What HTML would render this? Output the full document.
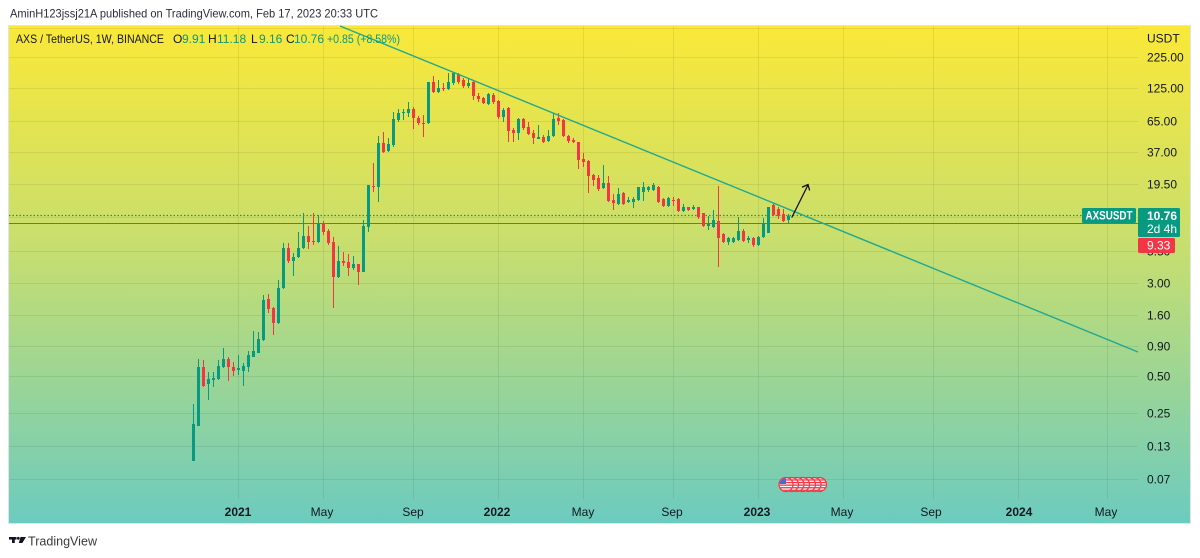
<!DOCTYPE html>
<html><head><meta charset="utf-8"><style>
html,body{margin:0;padding:0;background:#fff;width:1200px;height:558px;overflow:hidden}
svg{display:block}
text{font-family:"Liberation Sans",Arial,sans-serif}
</style></head><body>
<svg width="1200" height="558" viewBox="0 0 1200 558" xmlns="http://www.w3.org/2000/svg">
<defs>
<linearGradient id="bg" x1="0" y1="26" x2="0" y2="524" gradientUnits="userSpaceOnUse">
<stop offset="0" stop-color="#fae838"/>
<stop offset="0.45" stop-color="#c6de70"/>
<stop offset="1" stop-color="#6ccbbf"/>
</linearGradient>
<clipPath id="fc"><circle cx="0" cy="0" r="6.3"/></clipPath>
<g id="flag">
<circle r="7.6" fill="#f23645"/>
<circle r="6.3" fill="#fff"/>
<g clip-path="url(#fc)" fill="#f23645">
<rect x="-8" y="-5.2" width="16" height="1.3"/>
<rect x="-8" y="-2.6" width="16" height="1.3"/>
<rect x="-8" y="0" width="16" height="1.3"/>
<rect x="-8" y="2.6" width="16" height="1.3"/>
<rect x="-8" y="5.2" width="16" height="1.3"/>
</g>
</g>
</defs>

<!-- header -->
<text x="10" y="17.5" font-size="12" fill="#2a2e39" textLength="368" lengthAdjust="spacingAndGlyphs">AminH123jssj21A published on TradingView.com, Feb 17, 2023 20:33 UTC</text>

<!-- frame -->
<rect x="8.5" y="25.5" width="1182" height="498" fill="url(#bg)" stroke="#dfe3ea" stroke-width="1"/>

<!-- grid -->
<g stroke="#000" stroke-opacity="0.07" stroke-width="1">
<line x1="9" y1="28.5" x2="1138" y2="28.5"/>
<line x1="9" y1="57.5" x2="1138" y2="57.5"/>
<line x1="9" y1="88.5" x2="1138" y2="88.5"/>
<line x1="9" y1="121.5" x2="1138" y2="121.5"/>
<line x1="9" y1="152.5" x2="1138" y2="152.5"/>
<line x1="9" y1="184.5" x2="1138" y2="184.5"/>
<line x1="9" y1="217.5" x2="1138" y2="217.5"/>
<line x1="9" y1="251.5" x2="1138" y2="251.5"/>
<line x1="9" y1="283.5" x2="1138" y2="283.5"/>
<line x1="9" y1="315.5" x2="1138" y2="315.5"/>
<line x1="9" y1="346.5" x2="1138" y2="346.5"/>
<line x1="9" y1="376.5" x2="1138" y2="376.5"/>
<line x1="9" y1="413.5" x2="1138" y2="413.5"/>
<line x1="9" y1="446.5" x2="1138" y2="446.5"/>
<line x1="9" y1="479.5" x2="1138" y2="479.5"/>
<line x1="238.5" y1="26" x2="238.5" y2="499"/>
<line x1="323.5" y1="26" x2="323.5" y2="499"/>
<line x1="413.5" y1="26" x2="413.5" y2="499"/>
<line x1="498.5" y1="26" x2="498.5" y2="499"/>
<line x1="583.5" y1="26" x2="583.5" y2="499"/>
<line x1="673.5" y1="26" x2="673.5" y2="499"/>
<line x1="758.5" y1="26" x2="758.5" y2="499"/>
<line x1="843.5" y1="26" x2="843.5" y2="499"/>
<line x1="933.5" y1="26" x2="933.5" y2="499"/>
<line x1="1018.5" y1="26" x2="1018.5" y2="499"/>
<line x1="1107.5" y1="26" x2="1107.5" y2="499"/>
</g>

<!-- price lines -->
<line x1="9" y1="215.5" x2="1082" y2="215.5" stroke="#089981" stroke-width="1.2" stroke-dasharray="1.5,2"/>
<line x1="9" y1="223.5" x2="1138" y2="223.5" stroke="#f23645" stroke-width="1"/>

<!-- candles green -->
<path fill="#089981" d="M193,404h1V461h-1zM192,424h3V461h-3zM198,359h1V426h-1zM197,367h3V426h-3zM208,372h1V400h-1zM207,379h3V384h-3zM213,372h1V387h-1zM212,378h3V380h-3zM218,360h1V380h-1zM217,366h3V379h-3zM223,348h1V368h-1zM222,359h3V367h-3zM238,355h1V375h-1zM237,368h3V370h-3zM243,363h1V386h-1zM242,366h3V371h-3zM248,351h1V372h-1zM247,355h3V367h-3zM253,331h1V357h-1zM252,351h3V357h-3zM258,332h1V353h-1zM257,339h3V353h-3zM263,295h1V341h-1zM262,300h3V340h-3zM278,280h1V324h-1zM277,288h3V323h-3zM283,243h1V289h-1zM282,248h3V288h-3zM293,253h1V276h-1zM292,257h3V261h-3zM298,232h1V258h-1zM297,248h3V257h-3zM303,213h1V249h-1zM302,236h3V248h-3zM318,215h1V243h-1zM317,223h3V242h-3zM338,246h1V278h-1zM337,261h3V277h-3zM353,256h1V270h-1zM352,264h3V268h-3zM363,220h1V272h-1zM362,226h3V272h-3zM368,185h1V232h-1zM367,185h3V227h-3zM378,136h1V202h-1zM377,143h3V187h-3zM388,138h1V152h-1zM387,144h3V151h-3zM393,112h1V147h-1zM392,119h3V145h-3zM398,109h1V122h-1zM397,113h3V120h-3zM403,109h1V120h-1zM402,112h3V113h-3zM408,102h1V117h-1zM407,109h3V113h-3zM428,82h1V124h-1zM427,82h3V123h-3zM438,80h1V93h-1zM437,88h3V92h-3zM448,73h1V90h-1zM447,82h3V89h-3zM453,72h1V85h-1zM452,73h3V83h-3zM468,79h1V88h-1zM467,83h3V86h-3zM488,93h1V105h-1zM487,94h3V104h-3zM503,108h1V122h-1zM502,110h3V117h-3zM518,118h1V140h-1zM517,119h3V133h-3zM538,125h1V139h-1zM537,137h3V139h-3zM548,130h1V142h-1zM547,136h3V141h-3zM553,113h1V137h-1zM552,119h3V136h-3zM603,165h1V189h-1zM602,183h3V188h-3zM618,188h1V205h-1zM617,194h3V204h-3zM628,197h1V203h-1zM627,200h3V202h-3zM633,197h1V208h-1zM632,199h3V202h-3zM638,187h1V201h-1zM637,187h3V200h-3zM643,182h1V201h-1zM642,187h3V192h-3zM648,186h1V192h-1zM647,187h3V190h-3zM653,183h1V191h-1zM652,185h3V190h-3zM668,197h1V207h-1zM667,198h3V206h-3zM683,204h1V212h-1zM682,207h3V211h-3zM693,205h1V210h-1zM692,207h3V209h-3zM708,216h1V230h-1zM707,223h3V226h-3zM713,210h1V228h-1zM712,220h3V227h-3zM728,237h1V245h-1zM727,238h3V242h-3zM733,237h1V243h-1zM732,238h3V242h-3zM738,217h1V241h-1zM737,231h3V240h-3zM748,236h1V243h-1zM747,238h3V240h-3zM758,236h1V246h-1zM757,237h3V245h-3zM763,218h1V238h-1zM762,223h3V237h-3zM768,207h1V233h-1zM767,207h3V233h-3zM788,214h1V223h-1zM787,216h3V220h-3z"/>

<!-- candles red -->
<path fill="#f23645" d="M203,360h1V387h-1zM202,367h3V386h-3zM228,357h1V381h-1zM227,359h3V367h-3zM233,362h1V376h-1zM232,367h3V371h-3zM268,294h1V313h-1zM267,299h3V309h-3zM273,307h1V335h-1zM272,308h3V323h-3zM288,243h1V263h-1zM287,248h3V261h-3zM308,226h1V249h-1zM307,236h3V242h-3zM313,213h1V245h-1zM312,241h3V242h-3zM323,221h1V235h-1zM322,223h3V232h-3zM328,229h1V245h-1zM327,231h3V243h-3zM333,237h1V308h-1zM332,242h3V277h-3zM343,252h1V266h-1zM342,261h3V263h-3zM348,254h1V276h-1zM347,262h3V268h-3zM358,264h1V285h-1zM357,264h3V272h-3zM373,163h1V192h-1zM372,186h3V187h-3zM383,132h1V153h-1zM382,143h3V152h-3zM413,107h1V129h-1zM412,109h3V118h-3zM418,116h1V125h-1zM417,118h3V123h-3zM423,115h1V137h-1zM422,123h3V124h-3zM433,76h1V93h-1zM432,82h3V92h-3zM443,83h1V91h-1zM442,88h3V89h-3zM458,73h1V84h-1zM457,74h3V82h-3zM463,78h1V88h-1zM462,80h3V86h-3zM473,80h1V100h-1zM472,82h3V96h-3zM478,93h1V102h-1zM477,96h3V99h-3zM483,97h1V104h-1zM482,98h3V103h-3zM493,93h1V104h-1zM492,95h3V102h-3zM498,100h1V119h-1zM497,101h3V117h-3zM508,107h1V142h-1zM507,108h3V131h-3zM513,128h1V142h-1zM512,130h3V133h-3zM523,118h1V130h-1zM522,119h3V128h-3zM528,122h1V135h-1zM527,127h3V134h-3zM533,130h1V144h-1zM532,133h3V138h-3zM543,135h1V143h-1zM542,137h3V142h-3zM558,113h1V125h-1zM557,118h3V121h-3zM563,119h1V137h-1zM562,120h3V136h-3zM568,135h1V143h-1zM567,136h3V141h-3zM573,138h1V143h-1zM572,140h3V142h-3zM578,142h1V169h-1zM577,142h3V160h-3zM583,153h1V167h-1zM582,159h3V162h-3zM588,160h1V193h-1zM587,161h3V176h-3zM593,174h1V186h-1zM592,175h3V180h-3zM598,175h1V191h-1zM597,178h3V189h-3zM608,176h1V202h-1zM607,183h3V201h-3zM613,194h1V210h-1zM612,200h3V203h-3zM623,192h1V205h-1zM622,193h3V204h-3zM658,186h1V203h-1zM657,187h3V202h-3zM663,198h1V207h-1zM662,199h3V206h-3zM673,197h1V206h-1zM672,200h3V201h-3zM678,198h1V212h-1zM677,199h3V211h-3zM688,207h1V211h-1zM687,207h3V210h-3zM698,207h1V219h-1zM697,207h3V217h-3zM703,213h1V227h-1zM702,213h3V226h-3zM718,186h1V267h-1zM717,221h3V238h-3zM723,233h1V243h-1zM722,234h3V242h-3zM743,229h1V242h-1zM742,231h3V241h-3zM753,237h1V247h-1zM752,238h3V245h-3zM773,203h1V216h-1zM772,205h3V215h-3zM778,207h1V219h-1zM777,209h3V216h-3zM783,209h1V222h-1zM782,214h3V221h-3z"/>

<!-- trend line -->
<line x1="340" y1="26" x2="1138" y2="352" stroke="#1fa892" stroke-width="1.4"/>

<!-- arrow -->
<g stroke="#111" stroke-width="1.3" fill="none" stroke-linecap="round">
<line x1="792" y1="217" x2="808" y2="185"/>
<polyline points="802.5,187 808,184.5 809.5,190"/>
</g>

<!-- legend -->
<g font-size="12">
<text x="16" y="43" fill="#131722" textLength="148" lengthAdjust="spacingAndGlyphs">AXS / TetherUS, 1W, BINANCE</text>
<text x="173" y="43" fill="#131722">O</text><text x="182" y="43" fill="#089981">9.91</text>
<text x="208" y="43" fill="#131722">H</text><text x="217" y="43" fill="#089981">11.18</text>
<text x="251" y="43" fill="#131722">L</text><text x="259" y="43" fill="#089981">9.16</text>
<text x="286" y="43" fill="#131722">C</text><text x="294" y="43" fill="#089981">10.76</text>
<text x="327" y="43" fill="#089981" textLength="73" lengthAdjust="spacingAndGlyphs">+0.85 (+8.58%)</text>
</g>

<!-- price axis labels -->
<g font-size="12" fill="#131722">
<text x="1147" y="42.5">USDT</text>
<text x="1147" y="61.5">225.00</text>
<text x="1147" y="92.5">125.00</text>
<text x="1147" y="125.5">65.00</text>
<text x="1147" y="156.5">37.00</text>
<text x="1147" y="188.5">19.50</text>
<text x="1147" y="221.5">10.50</text>
<text x="1147" y="255.5">5.50</text>
<text x="1147" y="287.5">3.00</text>
<text x="1147" y="319.5">1.60</text>
<text x="1147" y="350.5">0.90</text>
<text x="1147" y="380.5">0.50</text>
<text x="1147" y="417.5">0.25</text>
<text x="1147" y="450.5">0.13</text>
<text x="1147" y="483.5">0.07</text>
</g>

<!-- price tags -->
<rect x="1082" y="208" width="54" height="15" rx="1.5" fill="#089981"/>
<text x="1109" y="219.5" font-size="11.5" font-weight="bold" fill="#fff" text-anchor="middle" textLength="47" lengthAdjust="spacingAndGlyphs">AXSUSDT</text>
<rect x="1138" y="208" width="42" height="29" rx="1.5" fill="#089981"/>
<text x="1147" y="220" font-size="12" font-weight="bold" fill="#fff">10.76</text>
<text x="1147" y="233" font-size="12" fill="#fff">2d 4h</text>
<rect x="1138" y="238" width="37" height="15" rx="1.5" fill="#f23645"/>
<text x="1147" y="249.5" font-size="12" fill="#fff">9.33</text>

<!-- time axis labels -->
<g font-size="12" fill="#131722" text-anchor="middle">
<text x="238" y="516" font-weight="bold">2021</text>
<text x="322" y="516">May</text>
<text x="413" y="516">Sep</text>
<text x="497" y="516" font-weight="bold">2022</text>
<text x="583" y="516">May</text>
<text x="672" y="516">Sep</text>
<text x="757" y="516" font-weight="bold">2023</text>
<text x="842" y="516">May</text>
<text x="931" y="516">Sep</text>
<text x="1019" y="516" font-weight="bold">2024</text>
<text x="1106" y="516">May</text>
</g>

<!-- flags -->
<use href="#flag" x="819.5" y="484.5"/>
<use href="#flag" x="814" y="484.5"/>
<use href="#flag" x="808.5" y="484.5"/>
<use href="#flag" x="802.5" y="484.5"/>
<use href="#flag" x="797" y="484.5"/>
<use href="#flag" x="791.5" y="484.5"/>
<g transform="translate(786,484.5)">
<circle r="7.6" fill="#f23645"/>
<circle r="6.3" fill="#fff"/>
<g clip-path="url(#fc)">
<g fill="#f23645">
<rect x="-8" y="-5.2" width="16" height="1.3"/>
<rect x="-8" y="-2.6" width="16" height="1.3"/>
<rect x="-8" y="0" width="16" height="1.3"/>
<rect x="-8" y="2.6" width="16" height="1.3"/>
<rect x="-8" y="5.2" width="16" height="1.3"/>
</g>
<rect x="-7" y="-7" width="7" height="6.5" fill="#3b6fd8"/>
</g>
</g>

<!-- bottom logo -->
<g fill="#131722">
<rect x="9" y="537" width="7.5" height="2.6"/>
<rect x="12" y="537" width="2.8" height="6"/>
<circle cx="18.3" cy="538.3" r="1.4"/>
<polygon points="20.5,537 26,537 22.3,543 18.8,543"/>
</g>
<text x="28" y="545.5" font-size="13" fill="#3a3a3a" textLength="69" lengthAdjust="spacingAndGlyphs">TradingView</text>
</svg>
</body></html>
